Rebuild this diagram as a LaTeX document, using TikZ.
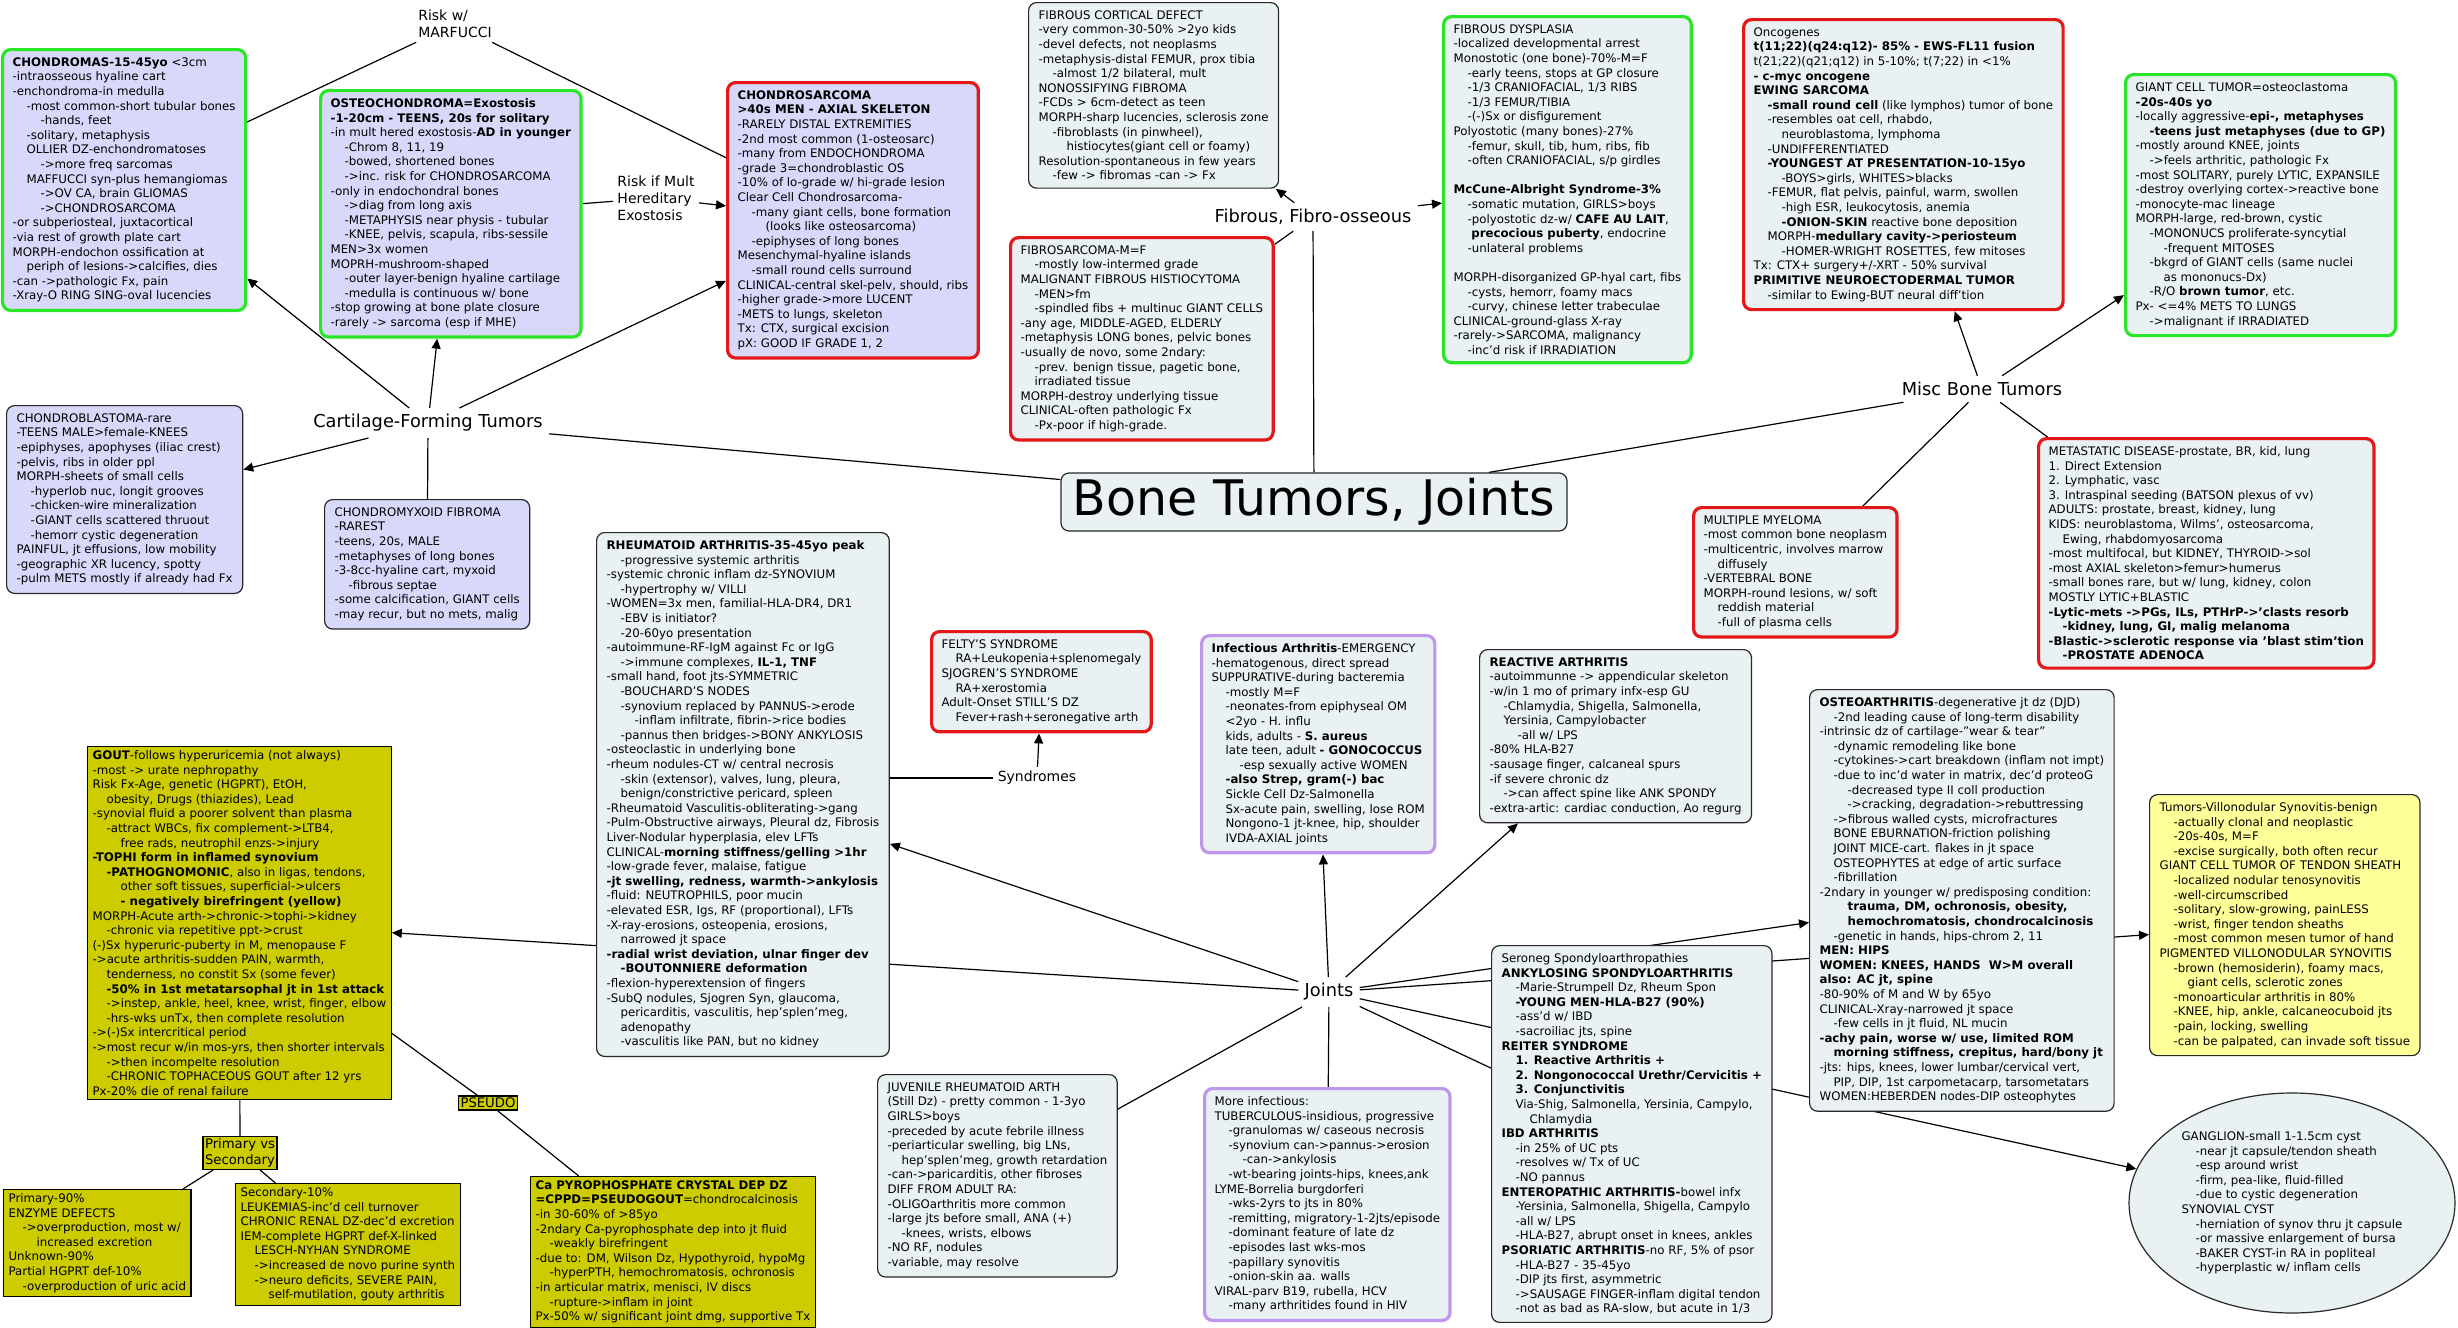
\documentclass[tikz,border=0pt]{standalone}
\usepackage{fontspec}
\setmainfont{DejaVu Sans}
\usetikzlibrary{arrows.meta,shapes.geometric,backgrounds,positioning}
\definecolor{lavfill}{RGB}{216,216,250}
\definecolor{bluefill}{RGB}{233,241,243}
\definecolor{gouty}{RGB}{204,204,0}
\definecolor{villo}{RGB}{255,255,153}
\definecolor{mapgreen}{RGB}{40,230,40}
\definecolor{mapred}{RGB}{228,24,24}
\definecolor{mappurple}{RGB}{190,150,235}
\definecolor{edgegray}{RGB}{40,40,40}
\newcommand{\boxtxt}{\fontsize{5.9pt}{7.3pt}\selectfont}
\newcommand{\linktxt}{\fontsize{7pt}{8.5pt}\selectfont}
\newcommand{\tagtxt}{\fontsize{6.6pt}{8pt}\selectfont}
\newcommand{\hubtxt}{\fontsize{8.9pt}{10.5pt}\selectfont}
\newcommand{\toptxt}{\fontsize{24.5pt}{28pt}\selectfont}
\newcommand{\indA}{\hspace*{7pt}}
\newcommand{\indB}{\hspace*{14pt}}
\begin{document}
\begin{tikzpicture}[x=0.5pt,y=-0.5pt,
    mapbox/.style={draw=edgegray,fill=bluefill,rounded corners=4pt,line width=0.6pt,
                   align=left,font=\boxtxt,inner xsep=5pt,inner ysep=4pt,anchor=north west},
    lavbox/.style={mapbox,fill=lavfill},
    greenbox/.style={mapbox,draw=mapgreen,line width=1.6pt},
    redbox/.style={mapbox,draw=mapred,line width=1.6pt},
    purplebox/.style={mapbox,draw=mappurple,line width=1.6pt},
    olivebox/.style={mapbox,fill=gouty,draw=black,rounded corners=0pt,
                     inner xsep=2.5pt,inner ysep=2pt},
    yellowbox/.style={mapbox,fill=villo},
    tagbox/.style={draw=black,fill=gouty,line width=0.6pt,align=left,
                   font=\tagtxt,inner sep=1pt},
    linklabel/.style={font=\linktxt,align=left,inner sep=2pt},
    hublabel/.style={font=\hubtxt,inner sep=3pt},
    ln/.style={line width=0.6pt},
    arr/.style={ln,-{Triangle[length=5pt,width=4.5pt]}},
  ]
  \useasboundingbox (0,0) rectangle (2458,1328);

  % title and branch labels
  \node[mapbox,anchor=center,font=\toptxt,minimum width=253pt,minimum height=29pt,
        inner sep=2pt,align=center] (title) at (1314,502) {Bone Tumors, Joints};
  \node[hublabel] (cartilage) at (428,423) {Cartilage-Forming Tumors};
  \node[hublabel] (fibrous) at (1313,217) {Fibrous, Fibro-osseous};
  \node[hublabel] (misc) at (1982,389) {Misc Bone Tumors};
  \node[hublabel] (joints) at (1329,992) {Joints};
  \node[linklabel] (marfucci) at (455,24) {Risk w/\\MARFUCCI};
  \node[linklabel] (riskmult) at (656,198) {Risk if Mult\\Hereditary\\Exostosis};
  \node[linklabel] (syndromes) at (1037,778) {Syndromes};
  \node[tagbox] (pseudo) at (488,1103) {PSEUDO};
  \node[tagbox] (primsec) at (240,1153) {Primary vs\\Secondary};

  % cartilage-forming tumors
  \node[greenbox,fill=lavfill] (chondromas) at (1,48) {%
\textbf{CHONDROMAS-15-45yo} <3cm\\
-intraosseous hyaline cart\\
-enchondroma-in medulla\\
\indA-most common-short tubular bones\\
\indB-hands, feet\\
\indA-solitary, metaphysis\\
\indA OLLIER DZ-enchondromatoses\\
\indB->more freq sarcomas\\
\indA MAFFUCCI syn-plus hemangiomas\\
\indB->OV CA, brain GLIOMAS\\
\indB->CHONDROSARCOMA\\
-or subperiosteal, juxtacortical\\
-via rest of growth plate cart\\
MORPH-endochon ossification at\\
\indA periph of lesions->calcifies, dies\\
-can ->pathologic Fx, pain\\
-Xray-O RING SING-oval lucencies};
  \node[greenbox,fill=lavfill] (osteochondroma) at (319,89) {%
\textbf{OSTEOCHONDROMA=Exostosis}\\
\textbf{-1-20cm - TEENS, 20s for solitary}\\
-in mult hered exostosis-\textbf{AD in younger}\\
\indA-Chrom 8, 11, 19\\
\indA-bowed, shortened bones\\
\indA->inc. risk for CHONDROSARCOMA\\
-only in endochondral bones\\
\indA->diag from long axis\\
\indA-METAPHYSIS near physis - tubular\\
\indA-KNEE, pelvis, scapula, ribs-sessile\\
MEN>3x women\\
MOPRH-mushroom-shaped\\
\indA-outer layer-benign hyaline cartilage\\
\indA-medulla is continuous w/ bone\\
-stop growing at bone plate closure\\
-rarely -> sarcoma (esp if MHE)};
  \node[redbox,fill=lavfill] (chondrosarcoma) at (726,81) {%
\textbf{CHONDROSARCOMA}\\
\textbf{>40s MEN - AXIAL SKELETON}\\
-RARELY DISTAL EXTREMITIES\\
-2nd most common (1-osteosarc)\\
-many from ENDOCHONDROMA\\
-grade 3=chondroblastic OS\\
-10\% of lo-grade w/ hi-grade lesion\\
Clear Cell Chondrosarcoma-\\
\indA-many giant cells, bone formation\\
\indB(looks like osteosarcoma)\\
\indA-epiphyses of long bones\\
Mesenchymal-hyaline islands\\
\indA-small round cells surround\\
CLINICAL-central skel-pelv, should, ribs\\
-higher grade->more LUCENT\\
-METS to lungs, skeleton\\
Tx: CTX, surgical excision\\
pX: GOOD IF GRADE 1, 2};
  \node[lavbox] (chondroblastoma) at (6,405) {%
CHONDROBLASTOMA-rare\\
-TEENS MALE>female-KNEES\\
-epiphyses, apophyses (iliac crest)\\
-pelvis, ribs in older ppl\\
MORPH-sheets of small cells\\
\indA-hyperlob nuc, longit grooves\\
\indA-chicken-wire mineralization\\
\indA-GIANT cells scattered thruout\\
\indA-hemorr cystic degeneration\\
PAINFUL, jt effusions, low mobility\\
-geographic XR lucency, spotty\\
-pulm METS mostly if already had Fx};
  \node[lavbox] (chondromyxoid) at (324,499) {%
CHONDROMYXOID FIBROMA\\
-RAREST\\
-teens, 20s, MALE\\
-metaphyses of long bones\\
-3-8cc-hyaline cart, myxoid\\
\indA-fibrous septae\\
-some calcification, GIANT cells\\
-may recur, but no mets, malig};

  % fibrous, fibro-osseous
  \node[mapbox] (cortical) at (1028,2) {%
FIBROUS CORTICAL DEFECT\\
-very common-30-50\% >2yo kids\\
-devel defects, not neoplasms\\
-metaphysis-distal FEMUR, prox tibia\\
\indA-almost 1/2 bilateral, mult\\
NONOSSIFYING FIBROMA\\
-FCDs > 6cm-detect as teen\\
MORPH-sharp lucencies, sclerosis zone\\
\indA-fibroblasts (in pinwheel),\\
\indB histiocytes(giant cell or foamy)\\
Resolution-spontaneous in few years\\
\indA-few -> fibromas -can -> Fx};
  \node[redbox] (fibrosarcoma) at (1009,236) {%
FIBROSARCOMA-M=F\\
\indA-mostly low-intermed grade\\
MALIGNANT FIBROUS HISTIOCYTOMA\\
\indA-MEN>fm\\
\indA-spindled fibs + multinuc GIANT CELLS\\
-any age, MIDDLE-AGED, ELDERLY\\
-metaphysis LONG bones, pelvic bones\\
-usually de novo, some 2ndary:\\
\indA-prev. benign tissue, pagetic bone,\\
\indA irradiated tissue\\
MORPH-destroy underlying tissue\\
CLINICAL-often pathologic Fx\\
\indA-Px-poor if high-grade.};
  \node[greenbox] (dysplasia) at (1442,15) {%
FIBROUS DYSPLASIA\\
-localized developmental arrest\\
Monostotic (one bone)-70\%-M=F\\
\indA-early teens, stops at GP closure\\
\indA-1/3 CRANIOFACIAL, 1/3 RIBS\\
\indA-1/3 FEMUR/TIBIA\\
\indA-(-)Sx or disfigurement\\
Polyostotic (many bones)-27\%\\
\indA-femur, skull, tib, hum, ribs, fib\\
\indA-often CRANIOFACIAL, s/p girdles\\[7.3pt]
\textbf{McCune-Albright Syndrome-3\%}\\
\indA-somatic mutation, GIRLS>boys\\
\indA-polyostotic dz-w/ \textbf{CAFE AU LAIT},\\
\indA\ \textbf{precocious puberty}, endocrine\\
\indA-unlateral problems\\[7.3pt]
MORPH-disorganized GP-hyal cart, fibs\\
\indA-cysts, hemorr, foamy macs\\
\indA-curvy, chinese letter trabeculae\\
CLINICAL-ground-glass X-ray\\
-rarely->SARCOMA, malignancy\\
\indA-inc'd risk if IRRADIATION};

  % misc bone tumors
  \node[redbox] (ewing) at (1742,18) {%
Oncogenes\\
\textbf{t(11;22)(q24:q12)- 85\% - EWS-FL11 fusion}\\
t(21;22)(q21;q12) in 5-10\%; t(7;22) in <1\%\\
\textbf{- c-myc oncogene}\\
\textbf{EWING SARCOMA}\\
\indA\textbf{-small round cell} (like lymphos) tumor of bone\\
\indA-resembles oat cell, rhabdo,\\
\indB neuroblastoma, lymphoma\\
\indA-UNDIFFERENTIATED\\
\indA\textbf{-YOUNGEST AT PRESENTATION-10-15yo}\\
\indB-BOYS>girls, WHITES>blacks\\
\indA-FEMUR, flat pelvis, painful, warm, swollen\\
\indB-high ESR, leukocytosis, anemia\\
\indB\textbf{-ONION-SKIN} reactive bone deposition\\
\indA MORPH-\textbf{medullary cavity->periosteum}\\
\indB-HOMER-WRIGHT ROSETTES, few mitoses\\
Tx: CTX+ surgery+/-XRT - 50\% survival\\
\textbf{PRIMITIVE NEUROECTODERMAL TUMOR}\\
\indA-similar to Ewing-BUT neural diff'tion};
  \node[greenbox] (giantcell) at (2124,73) {%
GIANT CELL TUMOR=osteoclastoma\\
\textbf{-20s-40s yo}\\
-locally aggressive-\textbf{epi-, metaphyses}\\
\indA\textbf{-teens just metaphyses (due to GP)}\\
-mostly around KNEE, joints\\
\indA->feels arthritic, pathologic Fx\\
-most SOLITARY, purely LYTIC, EXPANSILE\\
-destroy overlying cortex->reactive bone\\
-monocyte-mac lineage\\
MORPH-large, red-brown, cystic\\
\indA-MONONUCS proliferate-syncytial\\
\indB-frequent MITOSES\\
\indA-bkgrd of GIANT cells (same nuclei\\
\indB as mononucs-Dx)\\
\indA-R/O \textbf{brown tumor}, etc.\\
Px- <=4\% METS TO LUNGS\\
\indA->malignant if IRRADIATED};
  \node[redbox] (myeloma) at (1692,506) {%
MULTIPLE MYELOMA\\
-most common bone neoplasm\\
-multicentric, involves marrow\\
\indA diffusely\\
-VERTEBRAL BONE\\
MORPH-round lesions, w/ soft\\
\indA reddish material\\
\indA-full of plasma cells};
  \node[redbox] (metastatic) at (2037,437) {%
METASTATIC DISEASE-prostate, BR, kid, lung\\
1. Direct Extension\\
2. Lymphatic, vasc\\
3. Intraspinal seeding (BATSON plexus of vv)\\
ADULTS: prostate, breast, kidney, lung\\
KIDS: neuroblastoma, Wilms', osteosarcoma,\\
\indA Ewing, rhabdomyosarcoma\\
-most multifocal, but KIDNEY, THYROID->sol\\
-most AXIAL skeleton>femur>humerus\\
-small bones rare, but w/ lung, kidney, colon\\
MOSTLY LYTIC+BLASTIC\\
\textbf{-Lytic-mets ->PGs, ILs, PTHrP->'clasts resorb}\\
\indA\textbf{-kidney, lung, GI, malig melanoma}\\
\textbf{-Blastic->sclerotic response via 'blast stim'tion}\\
\indA\textbf{-PROSTATE ADENOCA}};

  % joints
  \node[mapbox] (rheumatoid) at (596,532) {%
\textbf{RHEUMATOID ARTHRITIS-35-45yo peak}\\
\indA-progressive systemic arthritis\\
-systemic chronic inflam dz-SYNOVIUM\\
\indA-hypertrophy w/ VILLI\\
-WOMEN=3x men, familial-HLA-DR4, DR1\\
\indA-EBV is initiator?\\
\indA-20-60yo presentation\\
-autoimmune-RF-IgM against Fc or IgG\\
\indA->immune complexes, \textbf{IL-1, TNF}\\
-small hand, foot jts-SYMMETRIC\\
\indA-BOUCHARD'S NODES\\
\indA-synovium replaced by PANNUS->erode\\
\indB-inflam infiltrate, fibrin->rice bodies\\
\indA-pannus then bridges->BONY ANKYLOSIS\\
-osteoclastic in underlying bone\\
-rheum nodules-CT w/ central necrosis\\
\indA-skin (extensor), valves, lung, pleura,\\
\indA benign/constrictive pericard, spleen\\
-Rheumatoid Vasculitis-obliterating->gang\\
-Pulm-Obstructive airways, Pleural dz, Fibrosis\\
Liver-Nodular hyperplasia, elev LFTs\\
CLINICAL-\textbf{morning stiffness/gelling >1hr}\\
-low-grade fever, malaise, fatigue\\
\textbf{-jt swelling, redness, warmth->ankylosis}\\
-fluid: NEUTROPHILS, poor mucin\\
-elevated ESR, Igs, RF (proportional), LFTs\\
-X-ray-erosions, osteopenia, erosions,\\
\indA narrowed jt space\\
\textbf{-radial wrist deviation, ulnar finger dev}\\
\indA\textbf{-BOUTONNIERE deformation}\\
-flexion-hyperextension of fingers\\
-SubQ nodules, Sjogren Syn, glaucoma,\\
\indA pericarditis, vasculitis, hep'splen'meg,\\
\indA adenopathy\\
\indA-vasculitis like PAN, but no kidney};
  \node[redbox] (felty) at (930,630) {%
FELTY'S SYNDROME\\
\indA RA+Leukopenia+splenomegaly\\
SJOGREN'S SYNDROME\\
\indA RA+xerostomia\\
Adult-Onset STILL'S DZ\\
\indA Fever+rash+seronegative arth};
  \node[purplebox] (infectious) at (1200,634) {%
\textbf{Infectious Arthritis}-EMERGENCY\\
-hematogenous, direct spread\\
SUPPURATIVE-during bacteremia\\
\indA-mostly M=F\\
\indA-neonates-from epiphyseal OM\\
\indA <2yo - H. influ\\
\indA kids, adults - \textbf{S. aureus}\\
\indA late teen, adult \textbf{- GONOCOCCUS}\\
\indB-esp sexually active WOMEN\\
\indA\textbf{-also Strep, gram(-) bac}\\
\indA Sickle Cell Dz-Salmonella\\
\indA Sx-acute pain, swelling, lose ROM\\
\indA Nongono-1 jt-knee, hip, shoulder\\
\indA IVDA-AXIAL joints};
  \node[mapbox] (reactive) at (1479,649) {%
\textbf{REACTIVE ARTHRITIS}\\
-autoimmunne -> appendicular skeleton\\
-w/in 1 mo of primary infx-esp GU\\
\indA-Chlamydia, Shigella, Salmonella,\\
\indA Yersinia, Campylobacter\\
\indB-all w/ LPS\\
-80\% HLA-B27\\
-sausage finger, calcaneal spurs\\
-if severe chronic dz\\
\indA->can affect spine like ANK SPONDY\\
-extra-artic: cardiac conduction, Ao regurg};
  \node[mapbox] (osteoarthritis) at (1809,689) {%
\textbf{OSTEOARTHRITIS}-degenerative jt dz (DJD)\\
\indA-2nd leading cause of long-term disability\\
-intrinsic dz of cartilage-"wear \& tear"\\
\indA-dynamic remodeling like bone\\
\indA-cytokines->cart breakdown (inflam not impt)\\
\indA-due to inc'd water in matrix, dec'd proteoG\\
\indB-decreased type II coll production\\
\indB->cracking, degradation->rebuttressing\\
\indA->fibrous walled cysts, microfractures\\
\indA BONE EBURNATION-friction polishing\\
\indA JOINT MICE-cart. flakes in jt space\\
\indA OSTEOPHYTES at edge of artic surface\\
\indA-fibrillation\\
-2ndary in younger w/ predisposing condition:\\
\indB\textbf{trauma, DM, ochronosis, obesity,}\\
\indB\textbf{hemochromatosis, chondrocalcinosis}\\
\indA-genetic in hands, hips-chrom 2, 11\\
\textbf{MEN: HIPS}\\
\textbf{WOMEN: KNEES, HANDS\ \ W>M overall}\\
\textbf{also: AC jt, spine}\\
-80-90\% of M and W by 65yo\\
CLINICAL-Xray-narrowed jt space\\
\indA-few cells in jt fluid, NL mucin\\
\textbf{-achy pain, worse w/ use, limited ROM}\\
\indA\textbf{morning stiffness, crepitus, hard/bony jt}\\
-jts: hips, knees, lower lumbar/cervical vert,\\
\indA PIP, DIP, 1st carpometacarp, tarsometatars\\
WOMEN:HEBERDEN nodes-DIP osteophytes};
  \node[yellowbox] (villonodular) at (2149,794) {%
Tumors-Villonodular Synovitis-benign\\
\indA-actually clonal and neoplastic\\
\indA-20s-40s, M=F\\
\indA-excise surgically, both often recur\\
GIANT CELL TUMOR OF TENDON SHEATH\\
\indA-localized nodular tenosynovitis\\
\indA-well-circumscribed\\
\indA-solitary, slow-growing, painLESS\\
\indA-wrist, finger tendon sheaths\\
\indA-most common mesen tumor of hand\\
PIGMENTED VILLONODULAR SYNOVITIS\\
\indA-brown (hemosiderin), foamy macs,\\
\indB giant cells, sclerotic zones\\
\indA-monoarticular arthritis in 80\%\\
\indA-KNEE, hip, ankle, calcaneocuboid jts\\
\indA-pain, locking, swelling\\
\indA-can be palpated, can invade soft tissue};
  \node[draw=edgegray,fill=bluefill,ellipse,line width=0.6pt,minimum width=163pt,
        minimum height=110pt,inner sep=0pt,align=left,font=\boxtxt] (ganglion) at (2292,1203) {%
GANGLION-small 1-1.5cm cyst\\
\indA-near jt capsule/tendon sheath\\
\indA-esp around wrist\\
\indA-firm, pea-like, fluid-filled\\
\indA-due to cystic degeneration\\
SYNOVIAL CYST\\
\indA-herniation of synov thru jt capsule\\
\indA-or massive enlargement of bursa\\
\indA-BAKER CYST-in RA in popliteal\\
\indA-hyperplastic w/ inflam cells};
  \node[olivebox] (gout) at (87,746) {%
\textbf{GOUT}-follows hyperuricemia (not always)\\
-most -> urate nephropathy\\
Risk Fx-Age, genetic (HGPRT), EtOH,\\
\indA obesity, Drugs (thiazides), Lead\\
-synovial fluid a poorer solvent than plasma\\
\indA-attract WBCs, fix complement->LTB4,\\
\indB free rads, neutrophil enzs->injury\\
\textbf{-TOPHI form in inflamed synovium}\\
\indA\textbf{-PATHOGNOMONIC}, also in ligas, tendons,\\
\indB other soft tissues, superficial->ulcers\\
\indB\textbf{- negatively birefringent (yellow)}\\
MORPH-Acute arth->chronic->tophi->kidney\\
\indA-chronic via repetitive ppt->crust\\
(-)Sx hyperuric-puberty in M, menopause F\\
->acute arthritis-sudden PAIN, warmth,\\
\indA tenderness, no constit Sx (some fever)\\
\indA\textbf{-50\% in 1st metatarsophal jt in 1st attack}\\
\indA->instep, ankle, heel, knee, wrist, finger, elbow\\
\indA-hrs-wks unTx, then complete resolution\\
->(-)Sx intercritical period\\
->most recur w/in mos-yrs, then shorter intervals\\
\indA->then incompelte resolution\\
\indA-CHRONIC TOPHACEOUS GOUT after 12 yrs\\
Px-20\% die of renal failure};
  \node[olivebox] (primary) at (3,1189) {%
Primary-90\%\\
ENZYME DEFECTS\\
\indA->overproduction, most w/\\
\indB increased excretion\\
Unknown-90\%\\
Partial HGPRT def-10\%\\
\indA-overproduction of uric acid};
  \node[olivebox] (secondary) at (235,1183) {%
Secondary-10\%\\
LEUKEMIAS-inc'd cell turnover\\
CHRONIC RENAL DZ-dec'd excretion\\
IEM-complete HGPRT def-X-linked\\
\indA LESCH-NYHAN SYNDROME\\
\indA->increased de novo purine synth\\
\indA->neuro deficits, SEVERE PAIN,\\
\indB self-mutilation, gouty arthritis};
  \node[olivebox] (pyrophosphate) at (530,1176) {%
\textbf{Ca PYROPHOSPHATE CRYSTAL DEP DZ}\\
\textbf{=CPPD=PSEUDOGOUT}=chondrocalcinosis\\
-in 30-60\% of >85yo\\
-2ndary Ca-pyrophosphate dep into jt fluid\\
\indA-weakly birefringent\\
-due to: DM, Wilson Dz, Hypothyroid, hypoMg\\
\indA-hyperPTH, hemochromatosis, ochronosis\\
-in articular matrix, menisci, IV discs\\
\indA-rupture->inflam in joint\\
Px-50\% w/ significant joint dmg, supportive Tx};
  \node[mapbox] (juvenile) at (877,1074) {%
JUVENILE RHEUMATOID ARTH\\
(Still Dz) - pretty common - 1-3yo\\
GIRLS>boys\\
-preceded by acute febrile illness\\
-periarticular swelling, big LNs,\\
\indA hep'splen'meg, growth retardation\\
-can->paricarditis, other fibroses\\
DIFF FROM ADULT RA:\\
-OLIGOarthritis more common\\
-large jts before small, ANA (+)\\
\indA-knees, wrists, elbows\\
-NO RF, nodules\\
-variable, may resolve};
  \node[purplebox] (moreinf) at (1203,1087) {%
More infectious:\\
TUBERCULOUS-insidious, progressive\\
\indA-granulomas w/ caseous necrosis\\
\indA-synovium can->pannus->erosion\\
\indB-can->ankylosis\\
\indA-wt-bearing joints-hips, knees,ank\\
LYME-Borrelia burgdorferi\\
\indA-wks-2yrs to jts in 80\%\\
\indA-remitting, migratory-1-2jts/episode\\
\indA-dominant feature of late dz\\
\indA-episodes last wks-mos\\
\indA-papillary synovitis\\
\indA-onion-skin aa. walls\\
VIRAL-parv B19, rubella, HCV\\
\indA-many arthritides found in HIV};
  \node[mapbox] (seroneg) at (1491,945) {%
Seroneg Spondyloarthropathies\\
\textbf{ANKYLOSING SPONDYLOARTHRITIS}\\
\indA-Marie-Strumpell Dz, Rheum Spon\\
\indA\textbf{-YOUNG MEN-HLA-B27 (90\%)}\\
\indA-ass'd w/ IBD\\
\indA-sacroiliac jts, spine\\
\textbf{REITER SYNDROME}\\
\indA\textbf{1. Reactive Arthritis +}\\
\indA\textbf{2. Nongonococcal Urethr/Cervicitis +}\\
\indA\textbf{3. Conjunctivitis}\\
\indA Via-Shig, Salmonella, Yersinia, Campylo,\\
\indB Chlamydia\\
\textbf{IBD ARTHRITIS}\\
\indA-in 25\% of UC pts\\
\indA-resolves w/ Tx of UC\\
\indA-NO pannus\\
\textbf{ENTEROPATHIC ARTHRITIS-}bowel infx\\
\indA-Yersinia, Salmonella, Shigella, Campylo\\
\indA-all w/ LPS\\
\indA-HLA-B27, abrupt onset in knees, ankles\\
\textbf{PSORIATIC ARTHRITIS}-no RF, 5\% of psor\\
\indA-HLA-B27 - 35-45yo\\
\indA-DIP jts first, asymmetric\\
\indA->SAUSAGE FINGER-inflam digital tendon\\
\indA-not as bad as RA-slow, but acute in 1/3};

  % connectors, behind the boxes
  \begin{scope}[on background layer]
    \draw[ln] (marfucci) -- (chondromas);
    \draw[ln] (marfucci) -- (chondrosarcoma);
    \draw[ln] (osteochondroma) -- (riskmult);
    \draw[arr] (riskmult) -- (chondrosarcoma);
    \draw[arr] (cartilage) -- (chondromas);
    \draw[arr] (cartilage) -- (osteochondroma);
    \draw[arr] (cartilage) -- (chondrosarcoma);
    \draw[arr] (cartilage) -- (chondroblastoma);
    \draw[ln] (cartilage) -- (chondromyxoid);
    \draw[ln] (cartilage) -- (title);
    \draw[arr] (fibrous) -- (cortical);
    \draw[arr] (fibrous) -- (dysplasia);
    \draw[ln] (fibrous) -- (fibrosarcoma);
    \draw[ln] (fibrous) -- (title);
    \draw[arr] (misc) -- (ewing);
    \draw[arr] (misc) -- (giantcell);
    \draw[ln] (misc) -- (myeloma);
    \draw[ln] (misc) -- (metastatic);
    \draw[ln] (misc) -- (title);
    \draw[arr] (joints) -- (rheumatoid);
    \draw[arr] (joints) -- (gout);
    \draw[arr] (joints) -- (infectious);
    \draw[arr] (joints) -- (reactive);
    \draw[arr] (joints) -- (osteoarthritis);
    \draw[arr] (joints) -- (villonodular);
    \draw[arr] (joints) -- (ganglion);
    \draw[ln] (joints) -- (juvenile);
    \draw[ln] (joints) -- (moreinf);
    \draw[ln] (joints) -- (seroneg);
    \draw[ln] (syndromes.west) -- (syndromes.west -| rheumatoid.east);
    \draw[arr] (syndromes) -- (felty);
    \draw[ln] (gout) -- (pseudo);
    \draw[ln] (pseudo) -- (pyrophosphate);
    \draw[ln] (gout) -- (primsec);
    \draw[ln] (primsec) -- (primary);
    \draw[ln] (primsec) -- (secondary);
  \end{scope}
\end{tikzpicture}
\end{document}
